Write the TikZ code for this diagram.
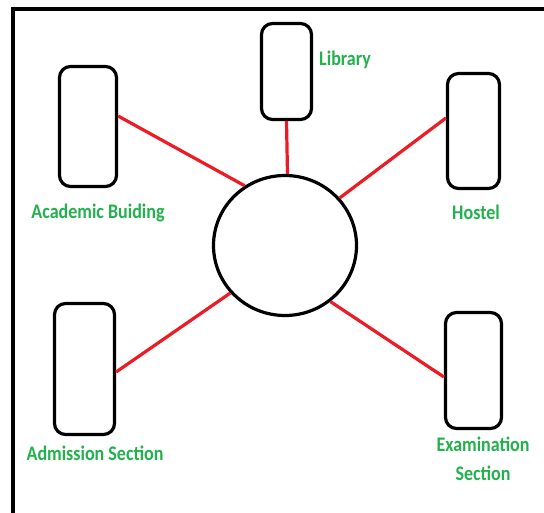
\documentclass[tikz,border=0pt]{standalone}
\usepackage{fontspec}
\setmainfont{Carlito}
\usetikzlibrary{shapes.geometric}
\definecolor{pred}{RGB}{237,28,36}
\definecolor{pgreen}{RGB}{34,177,76}
\newcommand{\tallt}[1]{\scalebox{1}[1.15]{#1}}
\tikzset{
  unitbox/.style={draw=black, line width=3.2pt, rounded corners=11pt, inner sep=0pt},
  hub/.style={draw=black, ellipse, line width=3.2pt, inner sep=0pt, minimum width=143pt, minimum height=140pt},
  link/.style={draw=pred, line width=3.2pt},
  lbl/.style={text=pgreen, font=\fontsize{18}{29}\selectfont\bfseries, inner sep=0pt, align=center},
  frame/.style={draw=black, line width=3.2pt}
}
\begin{document}
\begin{tikzpicture}[x=1pt, y=-1pt]
\useasboundingbox (0,0) rectangle (544,513);
\draw[frame] (545,9) -- (13,9) -- (13,514);
% boxes
\node[unitbox, minimum width=50pt, minimum height=96pt] (lib) at (286.5,71.5) {};
\node[unitbox, minimum width=57pt, minimum height=120pt] (acad) at (88,126.5) {};
\node[unitbox, minimum width=52pt, minimum height=115pt] (hostel) at (473.5,131) {};
\node[unitbox, minimum width=60pt, minimum height=131pt] (adm) at (84.5,369) {};
\node[unitbox, minimum width=56pt, minimum height=116pt] (exam) at (473.5,370.5) {};
% hub
\node[hub] (c) at (285,245.5) {};
% labels
\node[lbl] (liblbl) at (345,60) {\tallt{Library}};
\node[lbl] (acadlbl) at (98,213) {\tallt{Academic Buiding}};
\node[lbl] (hostellbl) at (476,212) {\tallt{Hostel}};
\node[lbl] (admlbl) at (95,453) {\tallt{Admission Section}};
\node[lbl] (examlbl) at (483,458.5) {\tallt{Examination}\\\tallt{Section}};
% connectors
\draw[link] ([yshift=10.5pt]acad.east) -- (c.124);
\draw[link] (lib.south) -- (c.88);
\draw[link] ([yshift=13pt]hostel.west) -- (c.41);
\draw[link] ([yshift=-3pt]adm.east) -- (c.221);
\draw[link] ([yshift=-6.5pt]exam.west) -- (c.309);
\end{tikzpicture}
\end{document}
